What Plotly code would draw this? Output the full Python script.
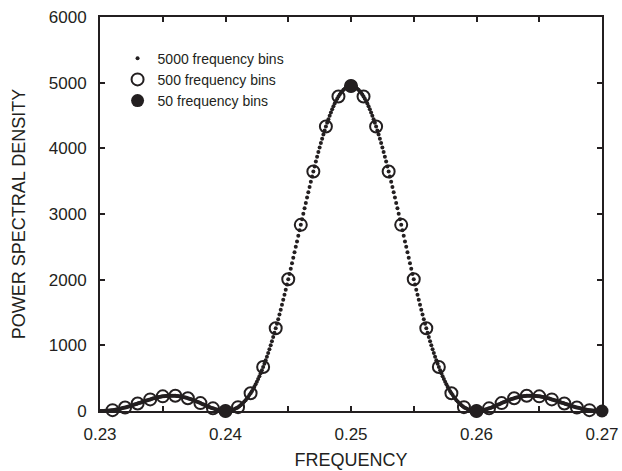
import numpy as np
import plotly.graph_objects as go

# 5000 frequency bins (spacing 0.0001)
fine_left = [0,0,1,1,2,3,5,6,8,11,
 13,16,19,23,26,30,34,39,44,48,
 54,59,64,70,76,82,88,94,101,107,
 114,120,127,133,140,146,153,159,165,171,
 177,183,189,194,199,204,208,212,216,220,
 223,226,228,230,232,233,233,234,233,233,
 232,230,228,225,222,219,215,210,205,200,
 194,188,182,175,168,161,153,145,137,129,
 120,112,103,95,87,78,70,62,54,47,
 40,33,27,21,16,11,7,4,2,0,
 0,1,2,5,9,14,20,28,37,47,
 59,73,88,105,123,143,165,189,214,242,
 271,302,335,370,407,446,487,530,574,621,
 670,721,773,828,884,942,1003,1064,1128,1193,
 1260,1329,1399,1470,1543,1617,1693,1770,1848,1926,
 2006,2087,2168,2250,2333,2416,2500,2583,2667,2751,
 2835,2919,3003,3086,3168,3250,3332,3412,3492,3570,
 3647,3723,3798,3871,3943,4012,4080,4146,4210,4272,
 4332,4389,4444,4497,4547,4594,4639,4681,4720,4756,
 4789,4820,4847,4871,4892,4909,4924,4935,4944,4948]
fine_peak = [4950]
fine_right = [4948,4944,4935,4924,4909,4892,4871,4847,4820,4789,
 4756,4720,4681,4639,4594,4547,4497,4444,4389,4332,
 4272,4210,4146,4080,4012,3943,3871,3798,3723,3647,
 3570,3492,3412,3332,3250,3168,3086,3003,2919,2835,
 2751,2667,2583,2500,2416,2333,2250,2168,2087,2006,
 1926,1848,1770,1693,1617,1543,1470,1399,1329,1260,
 1193,1128,1064,1003,942,884,828,773,721,670,
 621,574,530,487,446,407,370,335,302,271,
 242,214,189,165,143,123,105,88,73,59,
 47,37,28,20,14,9,5,2,1,0,
 0,2,4,7,11,16,21,27,33,40,
 47,54,62,70,78,87,95,103,112,120,
 129,137,145,153,161,168,175,182,188,194,
 200,205,210,215,219,222,225,228,230,232,
 233,233,234,233,233,232,230,228,226,223,
 220,216,212,208,204,199,194,189,183,177,
 171,165,159,153,146,140,133,127,120,114,
 107,101,94,88,82,76,70,64,59,54,
 48,44,39,34,30,26,23,19,16,13,
 11,8,6,5,3,2,1,1,0,0]
fine_vals = fine_left + fine_peak + fine_right
fine_freq = np.round(0.23 + 0.0001 * np.arange(len(fine_vals)), 4)

# 500 frequency bins (spacing 0.001)
mid_freq = [0.231,0.232,0.233,0.234,0.235,0.236,0.237,0.238,0.239,0.240,
            0.241,0.242,0.243,0.244,0.245,0.246,0.247,0.248,0.249,0.250,
            0.251,0.252,0.253,0.254,0.255,0.256,0.257,0.258,0.259,0.260,
            0.261,0.262,0.263,0.264,0.265,0.266,0.267,0.268,0.269]
mid_vals = [13,54,114,177,223,232,194,120,40,0,
            59,271,670,1260,2006,2835,3647,4332,4789,4950,
            4789,4332,3647,2835,2006,1260,670,271,59,0,
            40,120,194,232,223,177,114,54,13]

# 50 frequency bins (spacing 0.01)
coarse_freq = [0.24, 0.25, 0.26, 0.27]
coarse_vals = [0, 4950, 0, 0]

x_ticks = [0.23, 0.24, 0.25, 0.26, 0.27]
x_ticklabels = ["0.23", "0.24", "0.25", "0.26", "0.27"]
y_ticks = [0, 1000, 2000, 3000, 4000, 5000, 6000]

ink = "#231f20"
font_family = "Liberation Sans, Arial, Helvetica, sans-serif"

fig = go.Figure()
fig.add_trace(go.Scatter(
    x=fine_freq, y=fine_vals, mode="markers", name="5000 frequency bins",
    marker=dict(symbol="circle", size=4, color=ink, line=dict(width=0)),
    cliponaxis=False))
fig.add_trace(go.Scatter(
    x=mid_freq, y=mid_vals, mode="markers", name="500 frequency bins",
    marker=dict(symbol="circle-open", size=12, color=ink, line=dict(width=2, color=ink)),
    cliponaxis=False))
fig.add_trace(go.Scatter(
    x=coarse_freq, y=coarse_vals, mode="markers", name="50 frequency bins",
    marker=dict(symbol="circle", size=13, color=ink, line=dict(width=0)),
    cliponaxis=False))

axis_common = dict(
    showline=True, linecolor=ink, linewidth=2, mirror="allticks",
    ticks="inside", ticklen=5, tickwidth=2, tickcolor=ink,
    showgrid=False, zeroline=False, automargin=False,
    tickfont=dict(family=font_family, size=17, color=ink),
)

fig.update_layout(
    width=622, height=471,
    margin=dict(l=100, r=20, t=17, b=60),
    paper_bgcolor="white", plot_bgcolor="white",
    font=dict(family=font_family, color=ink),
    showlegend=True,
    legend=dict(x=0.035, y=0.935, xanchor="left", yanchor="top",
                bgcolor="rgba(0,0,0,0)", borderwidth=0,
                font=dict(family=font_family, size=14, color=ink),
                itemwidth=30, tracegroupgap=0),
    xaxis=dict(range=[0.23, 0.27], tickmode="array", tickvals=x_ticks,
               ticktext=x_ticklabels, ticklabelstandoff=7,
               minor=dict(dtick=0.005, tick0=0.23, ticks="inside", ticklen=5,
                          tickwidth=2, tickcolor=ink, showgrid=False),
               title=dict(text="FREQUENCY", font=dict(family=font_family, size=18, color=ink),
                          standoff=10),
               **axis_common),
    yaxis=dict(range=[0, 6000], tickmode="array", tickvals=y_ticks,
               title=dict(text="POWER SPECTRAL DENSITY",
                          font=dict(family=font_family, size=18, color=ink),
                          standoff=18),
               ticklabelstandoff=8,
               **axis_common),
)

fig.write_html("out.html")
